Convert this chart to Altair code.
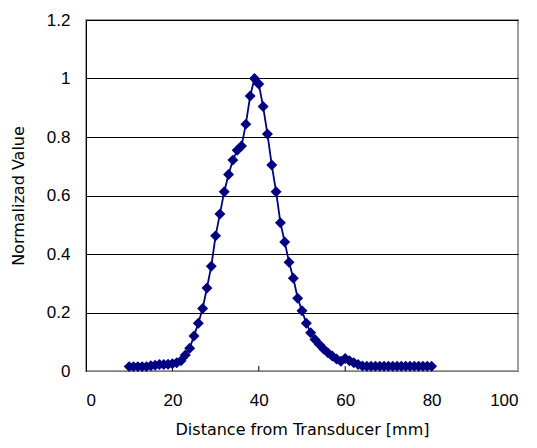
import altair as alt
import pandas as pd

distance = list(range(10, 81))
value = [
    0.015, 0.015, 0.015, 0.015, 0.015, 0.018, 0.020, 0.022, 0.022, 0.023,  # 10-19
    0.025, 0.028, 0.035, 0.055, 0.078, 0.120, 0.163, 0.214, 0.284, 0.358,  # 20-29
    0.462, 0.537, 0.613, 0.672, 0.721, 0.755, 0.769, 0.844, 0.940, 1.000,  # 30-39
    0.981, 0.904, 0.810, 0.704, 0.613, 0.507, 0.441, 0.372, 0.317, 0.249,  # 40-49
    0.206, 0.163, 0.131, 0.108, 0.091, 0.075, 0.062, 0.051, 0.041, 0.033,  # 50-59
    0.043, 0.035, 0.028, 0.022, 0.017, 0.016, 0.016, 0.016, 0.016, 0.016,  # 60-69
    0.016, 0.016, 0.016, 0.016, 0.016, 0.016, 0.016, 0.016, 0.016, 0.016,  # 70-79
    0.016,                                                                  # 80
]
x_ticks = [0, 20, 40, 60, 80, 100]
y_ticks = [0, 0.2, 0.4, 0.6, 0.8, 1.0, 1.2]

df = pd.DataFrame({"Distance": distance, "Value": value})
ticks_df = pd.DataFrame({"t": x_ticks[1:-1]})

LABEL_FONT = "Liberation Sans"
TITLE_FONT = "DejaVu Sans"
NAVY = "#000080"

x_enc = alt.X(
    "Distance:Q",
    scale=alt.Scale(domain=[0, 100], nice=False, zero=False),
    axis=alt.Axis(
        values=x_ticks,
        title="Distance from Transducer [mm]",
        grid=False,
        ticks=False,
        labelPadding=21,
        titlePadding=13,
        domainColor="#808080",
        domainWidth=1,
    ),
)
y_enc = alt.Y(
    "Value:Q",
    scale=alt.Scale(domain=[0, 1.2], nice=False),
    axis=alt.Axis(
        values=y_ticks,
        format="~g",
        title="Normalizad Value",
        grid=True,
        gridColor="#000000",
        gridWidth=1,
        gridOpacity=1,
        ticks=False,
        labelPadding=16,
        titlePadding=20,
        domainColor="#000000",
        domainWidth=1,
    ),
)

line = alt.Chart(df).mark_line(color=NAVY, strokeWidth=1.8).encode(x=x_enc, y=y_enc)
points = alt.Chart(df).mark_point(
    shape="diamond", size=120, filled=True, color=NAVY, opacity=1
).encode(x="Distance:Q", y="Value:Q")
tick_marks = alt.Chart(ticks_df).mark_rule(color="#000000", strokeWidth=1).encode(
    x=alt.X("t:Q"), y=alt.value(346), y2=alt.value(351)
)

chart = (
    alt.layer(tick_marks, line, points)
    .properties(
        width=432,
        height=351,
        autosize=alt.AutoSizeParams(type="none"),
        padding={"left": 78, "top": 12, "right": 11, "bottom": 69},
        background="#ffffff",
    )
    .configure_view(stroke="#a0a0a0", strokeWidth=2)
    .configure_axis(
        labelFont=LABEL_FONT,
        titleFont=TITLE_FONT,
        labelFontSize=17,
        titleFontSize=16,
        labelColor="#000000",
        titleColor="#000000",
        labelFontWeight="normal",
        titleFontWeight="normal",
    )
)

chart.save("out.html", embed_options={"renderer": "svg", "actions": False})
